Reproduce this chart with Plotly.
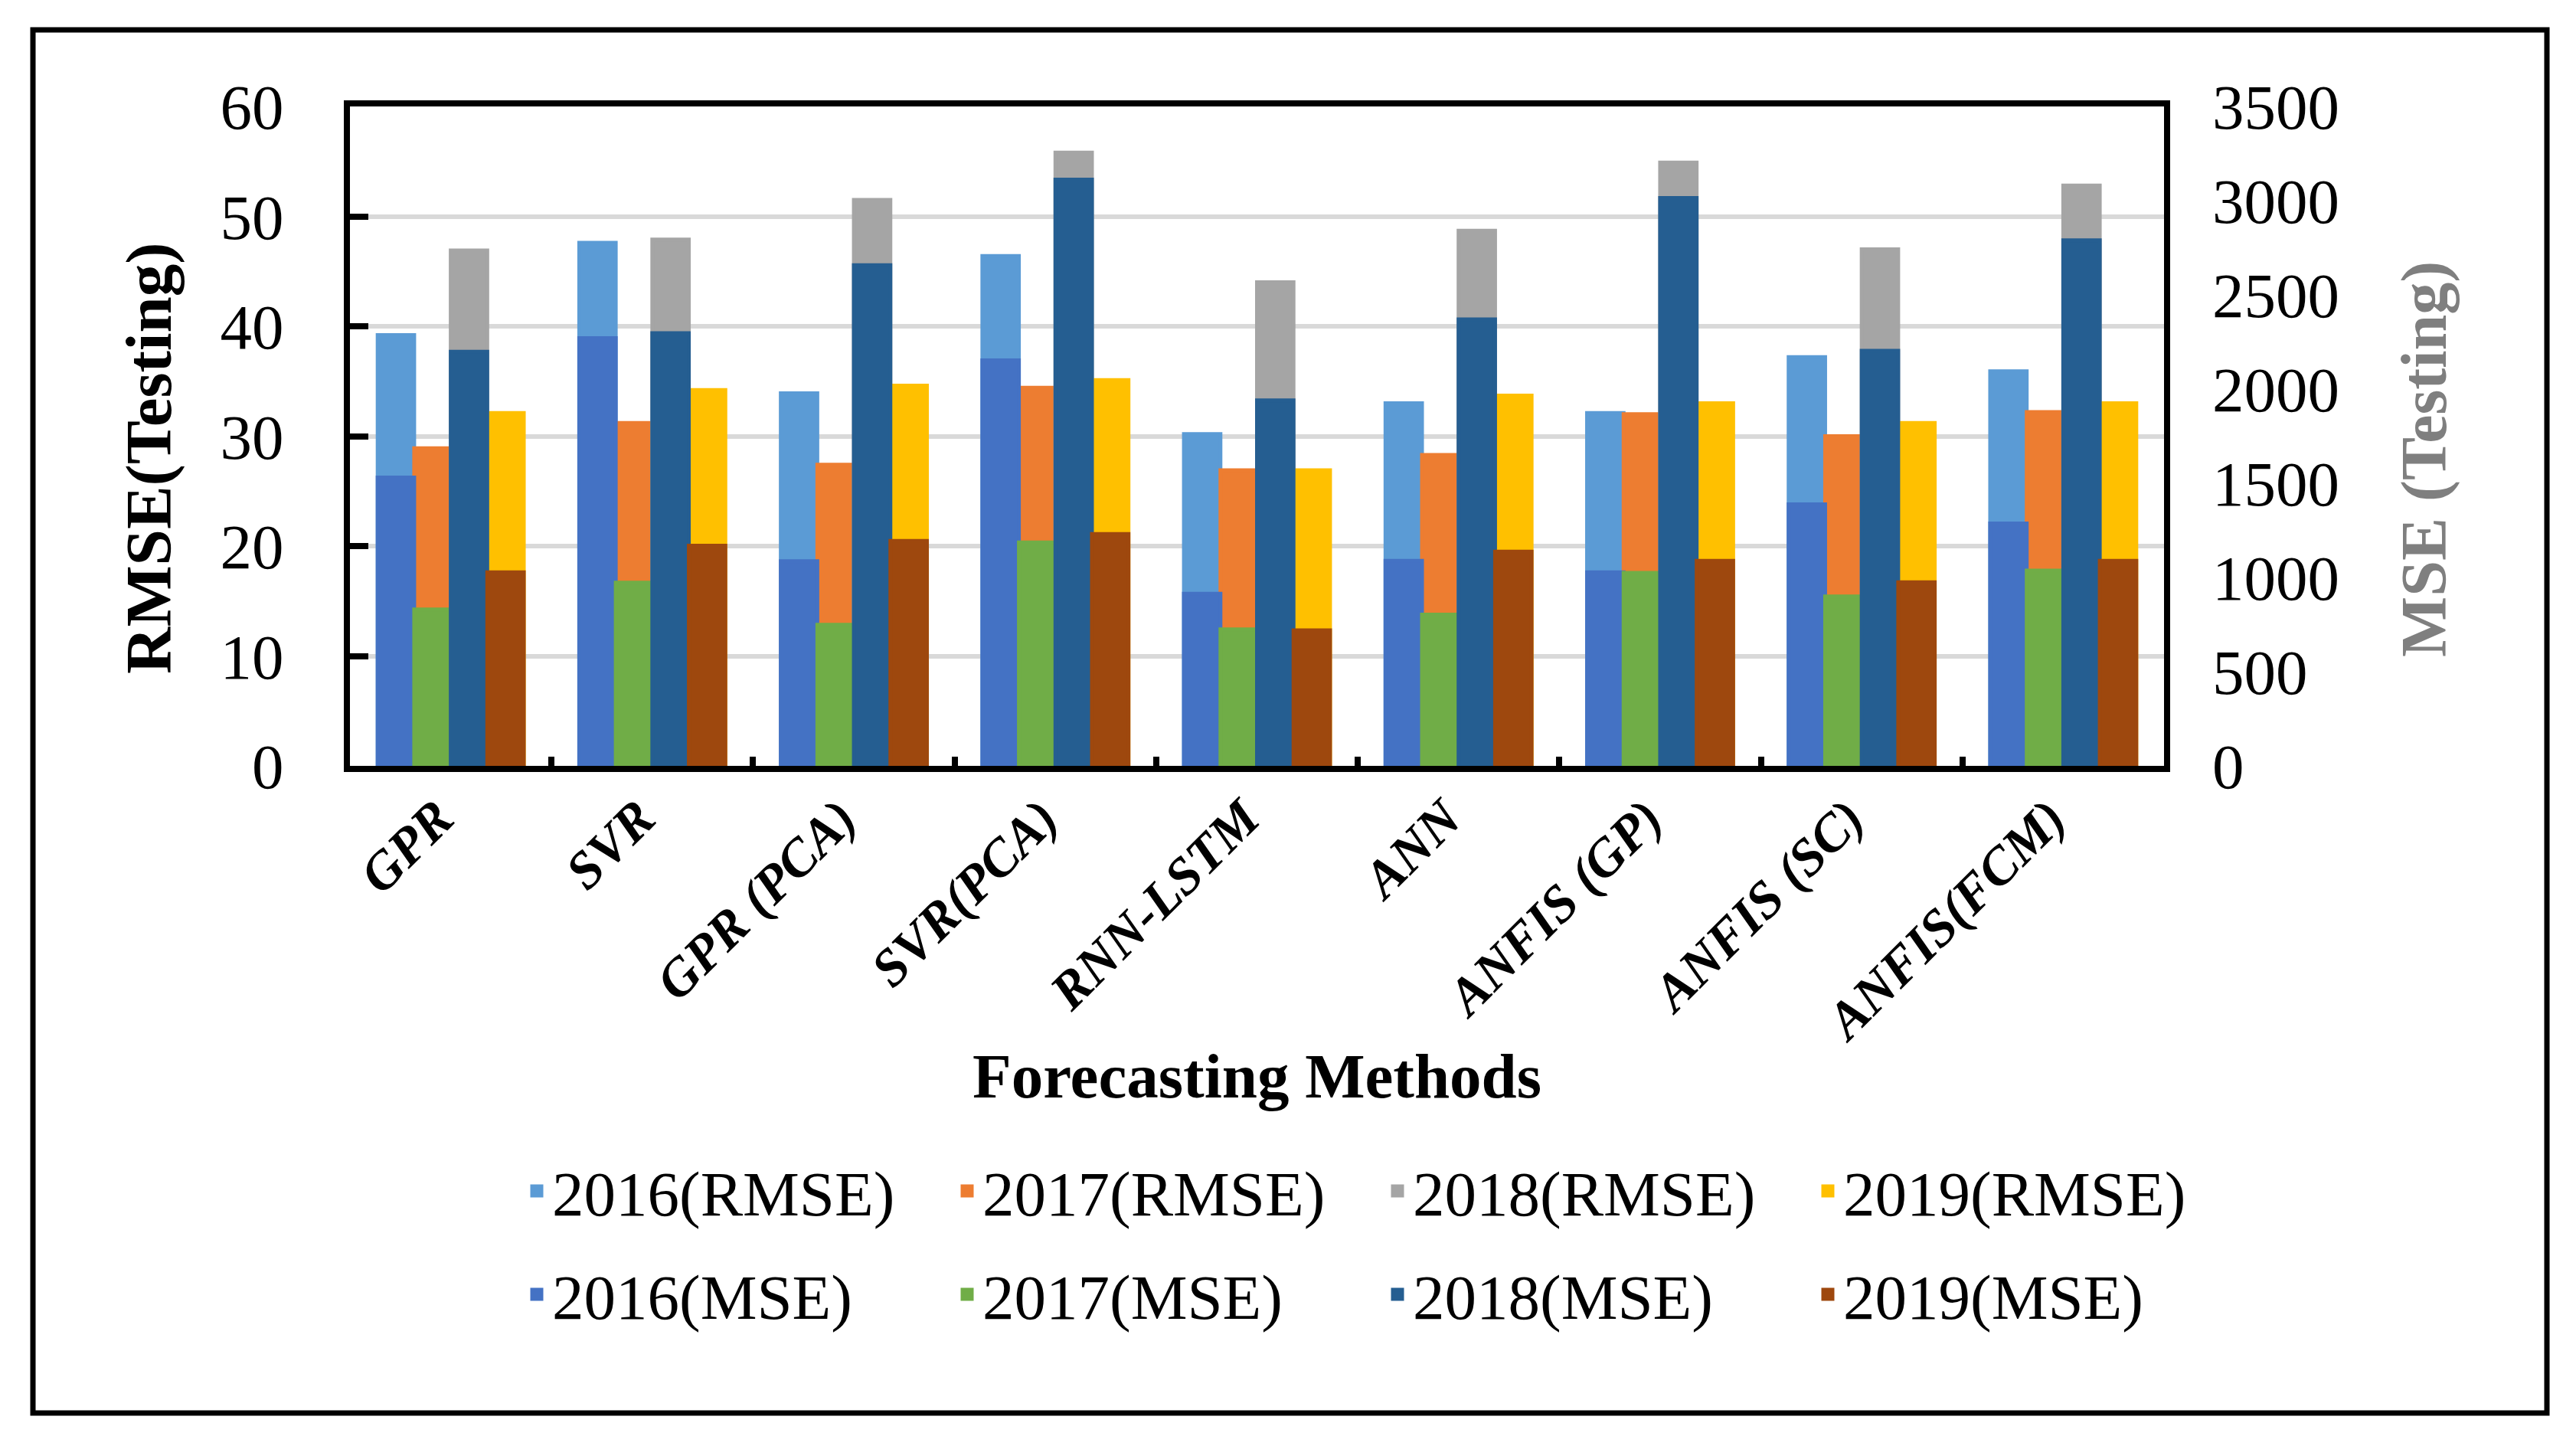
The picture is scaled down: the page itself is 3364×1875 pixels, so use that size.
import plotly.graph_objects as go

methods = ["GPR", "SVR", "GPR (PCA)", "SVR(PCA)", "RNN-LSTM", "ANN", "ANFIS (GP)", "ANFIS (SC)", "ANFIS(FCM)"]
years = ["2016", "2017", "2018", "2019"]

rmse_2016 = [39.2, 47.6, 33.9, 46.4, 30.2, 33.0, 32.1, 37.2, 35.9]
rmse_2017 = [28.9, 31.2, 27.4, 34.4, 26.9, 28.3, 32.0, 30.0, 32.2]
rmse_2018 = [46.9, 47.9, 51.5, 55.8, 44.0, 48.7, 54.9, 47.0, 52.8]
rmse_2019 = [32.1, 34.2, 34.6, 35.1, 26.9, 33.7, 33.0, 31.2, 33.0]

mse_2016 = [1530, 2270, 1086, 2152, 914, 1088, 1027, 1388, 1287]
mse_2017 = [830, 973, 749, 1186, 725, 803, 1024, 899, 1037]
mse_2018 = [2198, 2297, 2658, 3112, 1940, 2370, 3014, 2203, 2790]
mse_2019 = [1027, 1169, 1194, 1231, 720, 1137, 1088, 975, 1088]

rmse_colors = ["#5B9BD5", "#ED7D31", "#A5A5A5", "#FFC000"]
mse_colors = ["#4472C4", "#70AD47", "#255E91", "#9E480E"]

rmse_series = [rmse_2016, rmse_2017, rmse_2018, rmse_2019]
mse_series = [mse_2016, mse_2017, mse_2018, mse_2019]

FONT = "Liberation Serif"
OFF = 8  # page body margin
W, H = 3340, 1859
# plot area in page pixels
PL, PR, PT, PB = 457, 2826, 139, 1000
L, R, T, B = PL - OFF, PR - OFF, PT - OFF, PB - OFF
PW, PH = R - L, B - T


def px(xpage):
    return (xpage - OFF - L) / PW


def py(ypage):
    return (B - (ypage - OFF)) / PH


fig = go.Figure()
for yr, vals, col in zip(years, rmse_series, rmse_colors):
    fig.add_trace(go.Bar(x=methods, y=vals, name=f"{yr}(RMSE)",
                         marker=dict(color=col, line=dict(width=5, color=col)),
                         offsetgroup=yr, yaxis="y", legend="legend"))
for yr, vals, col in zip(years, mse_series, mse_colors):
    fig.add_trace(go.Bar(x=methods, y=vals, name=f"{yr}(MSE)",
                         marker=dict(color=col, line=dict(width=5, color=col)),
                         offsetgroup=yr, yaxis="y2", legend="legend2"))

legend_common = dict(orientation="h", xanchor="left", yanchor="middle",
                     font=dict(family=FONT, size=83, color="black"),
                     entrywidth=517, entrywidthmode="pixels", bgcolor="rgba(0,0,0,0)",
                     traceorder="normal")

fig.update_layout(
    width=W, height=H,
    margin=dict(l=L, r=W - R, t=T, b=H - B, pad=0),
    paper_bgcolor="white", plot_bgcolor="white",
    barmode="group", bargap=0.275, bargroupgap=0,
    font=dict(family=FONT, color="black"),
    xaxis=dict(type="category", showline=True, linecolor="black", linewidth=8, mirror=True,
               ticks="inside", tickson="boundaries", ticklen=12, tickwidth=8, tickcolor="black",
               tickangle=-45, ticklabelstandoff=-8, ticklabelshift=-17,
               tickfont=dict(family=FONT, size=69, color="black", weight="bold", style="italic"),
               showgrid=False, zeroline=False),
    yaxis=dict(range=[0, 60], dtick=10, showline=True, linecolor="black", linewidth=8, mirror=True,
               ticks="inside", ticklen=24, tickwidth=8, tickcolor="black",
               ticklabelstandoff=62,
               tickfont=dict(family=FONT, size=83, color="black"),
               showgrid=True, gridcolor="#D9D9D9", gridwidth=6, zeroline=False),
    yaxis2=dict(range=[0, 3500], dtick=500, overlaying="y", side="right", tickformat="d",
                showline=False, ticks="", ticklabelstandoff=62,
                tickfont=dict(family=FONT, size=83, color="black"),
                showgrid=False, zeroline=False),
    legend=dict(x=px(681), y=py(1555), **legend_common),
    legend2=dict(x=px(681), y=py(1690), **legend_common),
    showlegend=True,
)

fig.add_annotation(text="<b>RMSE(Testing)</b>", xref="paper", yref="paper", x=px(194), y=py(598),
                   textangle=-90, showarrow=False, xanchor="center", yanchor="middle",
                   font=dict(family=FONT, size=85, color="black"))
fig.add_annotation(text="<b>MSE (Testing)</b>", xref="paper", yref="paper", x=px(3166), y=py(600),
                   textangle=-90, showarrow=False, xanchor="center", yanchor="middle",
                   font=dict(family=FONT, size=84, color="#7F7F7F"))
fig.add_annotation(text="<b>Forecasting Methods</b>", xref="paper", yref="paper", x=0.5, y=py(1405),
                   showarrow=False, xanchor="center", yanchor="middle",
                   font=dict(family=FONT, size=83, color="black"))

fig.add_shape(type="rect", xref="paper", yref="paper", x0=px(43), x1=px(3326), y0=py(1845), y1=py(39),
              line=dict(color="black", width=7), fillcolor="rgba(0,0,0,0)", layer="below")

fig.write_html("out.html")
